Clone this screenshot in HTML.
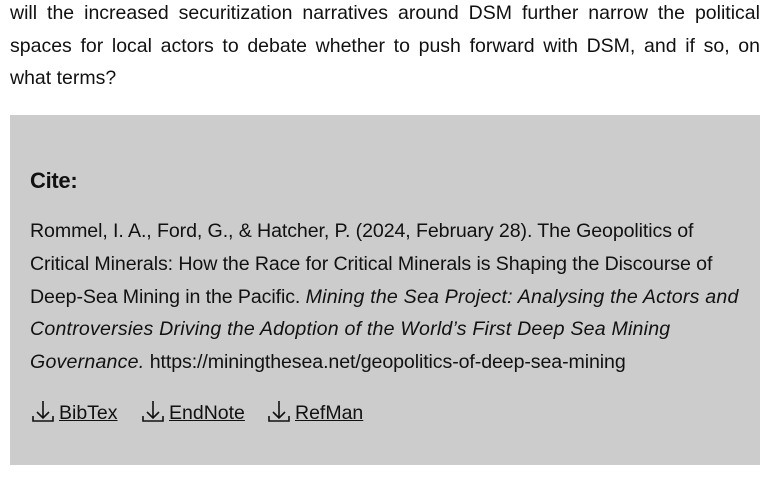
<!DOCTYPE html>
<html><head><meta charset="utf-8"><style>
body{margin:0;width:770px;height:477px;background:#fff;font-family:"Liberation Sans",sans-serif;color:#111;overflow:hidden;position:relative}
.p{position:absolute;left:10px;width:750px;font-size:19.5px;white-space:nowrap}
.j{text-align:justify;text-align-last:justify;white-space:normal}
#box{position:absolute;left:10px;top:115px;width:750px;height:350px;background:#cccccc}
.c{position:absolute;left:30px;font-size:19.6px;white-space:nowrap;letter-spacing:-0.1px}
.c i{letter-spacing:0.2px}
a{color:#111;text-decoration:underline}
.dl{position:absolute;top:400px;font-size:19.5px;white-space:nowrap}
.ic{display:inline-block;vertical-align:-3px;margin-right:4px}
</style></head><body>
<div class="p j" style="top:2px">will the increased securitization narratives around DSM further narrow the political</div>
<div class="p j" style="top:35px">spaces for local actors to debate whether to push forward with DSM, and if so, on</div>
<div class="p" style="top:67px">what terms?</div>
<div id="box"></div>
<div class="c" style="top:168px;font-size:22px;font-weight:bold;letter-spacing:-0.3px">Cite:</div>
<div class="c" style="top:220px">Rommel, I. A., Ford, G., &amp; Hatcher, P. (2024, February 28). The Geopolitics of</div>
<div class="c" style="top:253px">Critical Minerals: How the Race for Critical Minerals is Shaping the Discourse of</div>
<div class="c" style="top:286px">Deep-Sea Mining in the Pacific. <i>Mining the Sea Project: Analysing the Actors and</i></div>
<div class="c" style="top:318px"><i>Controversies Driving the Adoption of the World’s First Deep Sea Mining</i></div>
<div class="c" style="top:351px"><i>Governance.</i> https://miningthesea.net/geopolitics-of-deep-sea-mining</div>
<div class="dl" style="left:31px"><svg class="ic" width="24" height="22" viewBox="0 0 24 22"><path d="M12 1v17M6 12l6 6 6-6M2 16v5h20v-5" fill="none" stroke="#111" stroke-width="1.6"/></svg><a>BibTex</a></div>
<div class="dl" style="left:141px"><svg class="ic" width="24" height="22" viewBox="0 0 24 22"><path d="M12 1v17M6 12l6 6 6-6M2 16v5h20v-5" fill="none" stroke="#111" stroke-width="1.6"/></svg><a>EndNote</a></div>
<div class="dl" style="left:267px"><svg class="ic" width="24" height="22" viewBox="0 0 24 22"><path d="M12 1v17M6 12l6 6 6-6M2 16v5h20v-5" fill="none" stroke="#111" stroke-width="1.6"/></svg><a>RefMan</a></div>
</body></html>
